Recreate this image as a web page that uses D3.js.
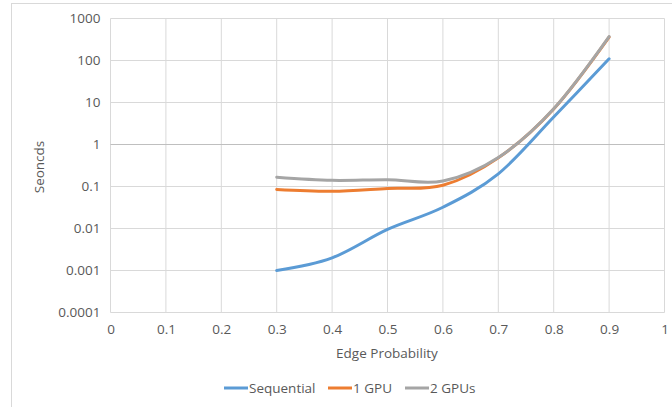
<!DOCTYPE html>
<html><head><meta charset="utf-8">
<script src="https://cdn.jsdelivr.net/npm/d3@7"></script>
<style>
body{margin:0;background:#fff;}
svg{display:block;font-family:"Open Sans","Liberation Sans",sans-serif;}
</style></head>
<body><svg id="chart" width="672" height="407"></svg>
<script>
const edgeProb = [0.3, 0.4, 0.5, 0.6, 0.7, 0.8, 0.9];
const sequential = [0.001, 0.002, 0.0095, 0.032, 0.2, 4.5, 110];
const gpu1 = [0.085, 0.077, 0.09, 0.107, 0.48, 7.0, 360];
const gpu2 = [0.166, 0.14, 0.145, 0.135, 0.49, 7.1, 372];
const xTicks = [0,0.1,0.2,0.3,0.4,0.5,0.6,0.7,0.8,0.9,1];
const yTicks = [0.0001,0.001,0.01,0.1,1,10,100,1000];
const yTickLabels = ["0.0001","0.001","0.01","0.1","1","10","100","1000"];
const seriesNames = ["Sequential","1 GPU","2 GPUs"];
const colors = ["#5b9bd5","#ed7d31","#a5a5a5"];

const svg = d3.select("#chart");
// outer chart border
svg.append("rect").attr("x",11.5).attr("y",3.5).attr("width",680).attr("height",420)
  .attr("fill","none").attr("stroke","#d9d9d9");

const x = d3.scaleLinear().domain([0,1]).range([110.5,664.5]);
const y = d3.scaleLog().domain([0.0001,1000]).range([312.5,18.5]);

const g = svg.append("g");
// gridlines
g.selectAll(".vg").data(xTicks).join("line")
  .attr("x1",d=>x(d)).attr("x2",d=>x(d)).attr("y1",y(1000)).attr("y2",y(0.0001))
  .attr("stroke","#d9d9d9").attr("stroke-width",1);
g.selectAll(".hg").data(yTicks).join("line")
  .attr("x1",x(0)).attr("x2",x(1)).attr("y1",d=>y(d)).attr("y2",d=>y(d))
  .attr("stroke",d=>d===1?"#bfbfbf":"#d9d9d9").attr("stroke-width",1);

// axes labels via d3 axes (no domain/ticks lines)
const xAxis = d3.axisBottom(x).tickValues(xTicks).tickSize(0).tickPadding(12)
  .tickFormat(d=>d===0?"0":d===1?"1":d3.format(".1f")(d));
const xa = svg.append("g").attr("transform",`translate(0,${y(0.0001)})`).call(xAxis);
xa.select(".domain").remove();
xa.selectAll("text").attr("fill","#595959").attr("font-size",13.5).attr("font-family","'Open Sans',sans-serif");

const yAxis = d3.axisLeft(y).tickValues(yTicks).tickSize(0).tickPadding(10)
  .tickFormat((d,i)=>yTickLabels[i]);
const ya = svg.append("g").attr("transform",`translate(${x(0)},0)`).call(yAxis);
ya.select(".domain").remove();
ya.selectAll("text").attr("fill","#595959").attr("font-size",13.5).attr("font-family","'Open Sans',sans-serif");

// axis titles
svg.append("text").attr("x",387).attr("y",358).attr("text-anchor","middle")
  .attr("fill","#595959").attr("font-size",13.5).text("Edge Probability");
svg.append("text").attr("transform","translate(44,167) rotate(-90)").attr("text-anchor","middle")
  .attr("fill","#595959").attr("font-size",13.5).text("Seoncds");

// lines
const line = d3.line().x(d=>x(d[0])).y(d=>y(d[1])).curve(d3.curveCatmullRom.alpha(0));
[sequential,gpu1,gpu2].forEach((vals,i)=>{
  svg.append("path").datum(edgeProb.map((p,j)=>[p,vals[j]]))
    .attr("d",line).attr("fill","none").attr("stroke",colors[i])
    .attr("stroke-width",3).attr("stroke-linecap","round");
});

// legend
const legendX = [224,328,405];
seriesNames.forEach((n,i)=>{
  const lx = legendX[i];
  svg.append("line").attr("x1",lx).attr("x2",lx+24).attr("y1",388).attr("y2",388)
    .attr("stroke",colors[i]).attr("stroke-width",3);
  svg.append("text").attr("x",lx+25).attr("y",393).attr("fill","#595959")
    .attr("font-size",13.5).text(n);
});
</script></body></html>
